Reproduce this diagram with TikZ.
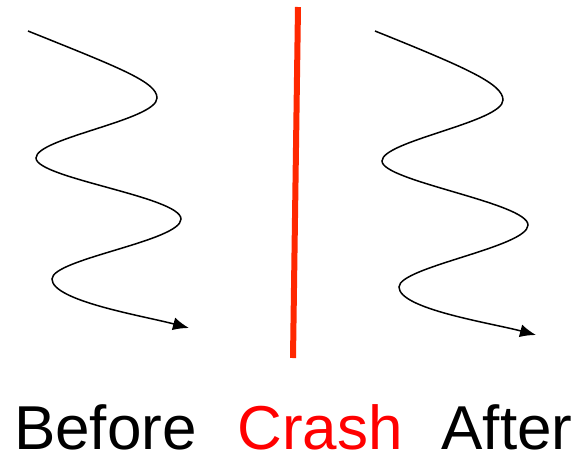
\documentclass[tikz,border=0pt]{standalone}
\usepackage{fontspec}
\setmainfont{Liberation Sans}
\usetikzlibrary{arrows.meta,calc}
\begin{document}
\begin{tikzpicture}[x=1pt,y=-1pt,
  wave/.style={line width=1.5pt,-{Latex[length=16pt,width=13pt]}},
  lbl/.style={anchor=base,inner sep=0pt,font=\fontsize{62}{62}\selectfont}]
\useasboundingbox (0,0) rectangle (584,456);
% left wave
\coordinate (l0) at (28,31);
\coordinate (l1) at (157,98);
\coordinate (l2) at (36,158);
\coordinate (l3) at (181,219);
\coordinate (l4) at (52,279);
\coordinate (l5) at (189,328);
\draw[wave] (l0) .. controls ($(l0)+(92,37)$) and ($(l1)+(0,-16)$) .. (l1)
  .. controls ($(l1)+(0,22)$) and ($(l2)+(0,-20)$) .. (l2)
  .. controls ($(l2)+(0,20)$) and ($(l3)+(0,-22)$) .. (l3)
  .. controls ($(l3)+(0,22)$) and ($(l4)+(0,-20)$) .. (l4)
  .. controls ($(l4)+(0,22)$) and ($(l5)+(-45,-12)$) .. (l5);
% right wave
\coordinate (r0) at (375,31);
\coordinate (r1) at (503,100);
\coordinate (r2) at (382,161);
\coordinate (r3) at (528,225);
\coordinate (r4) at (399,287);
\coordinate (r5) at (536,335);
\draw[wave] (r0) .. controls ($(r0)+(92,37)$) and ($(r1)+(0,-16)$) .. (r1)
  .. controls ($(r1)+(0,22)$) and ($(r2)+(0,-20)$) .. (r2)
  .. controls ($(r2)+(0,20)$) and ($(r3)+(0,-22)$) .. (r3)
  .. controls ($(r3)+(0,22)$) and ($(r4)+(0,-20)$) .. (r4)
  .. controls ($(r4)+(0,22)$) and ($(r5)+(-45,-12)$) .. (r5);
% crash line
\coordinate (ctop) at (298,7);
\coordinate (cbot) at (293,358);
\draw[line width=6pt,color={rgb,255:red,255;green,40;blue,0}] (ctop) -- (cbot);
% labels
\node[lbl] (before) at (105.5,449.5) {Before};
\node[lbl,text={rgb,255:red,255;green,0;blue,0}] (crash) at (320,449.5) {Crash};
\node[lbl] (after) at (507,449.5) {After};
\end{tikzpicture}
\end{document}
